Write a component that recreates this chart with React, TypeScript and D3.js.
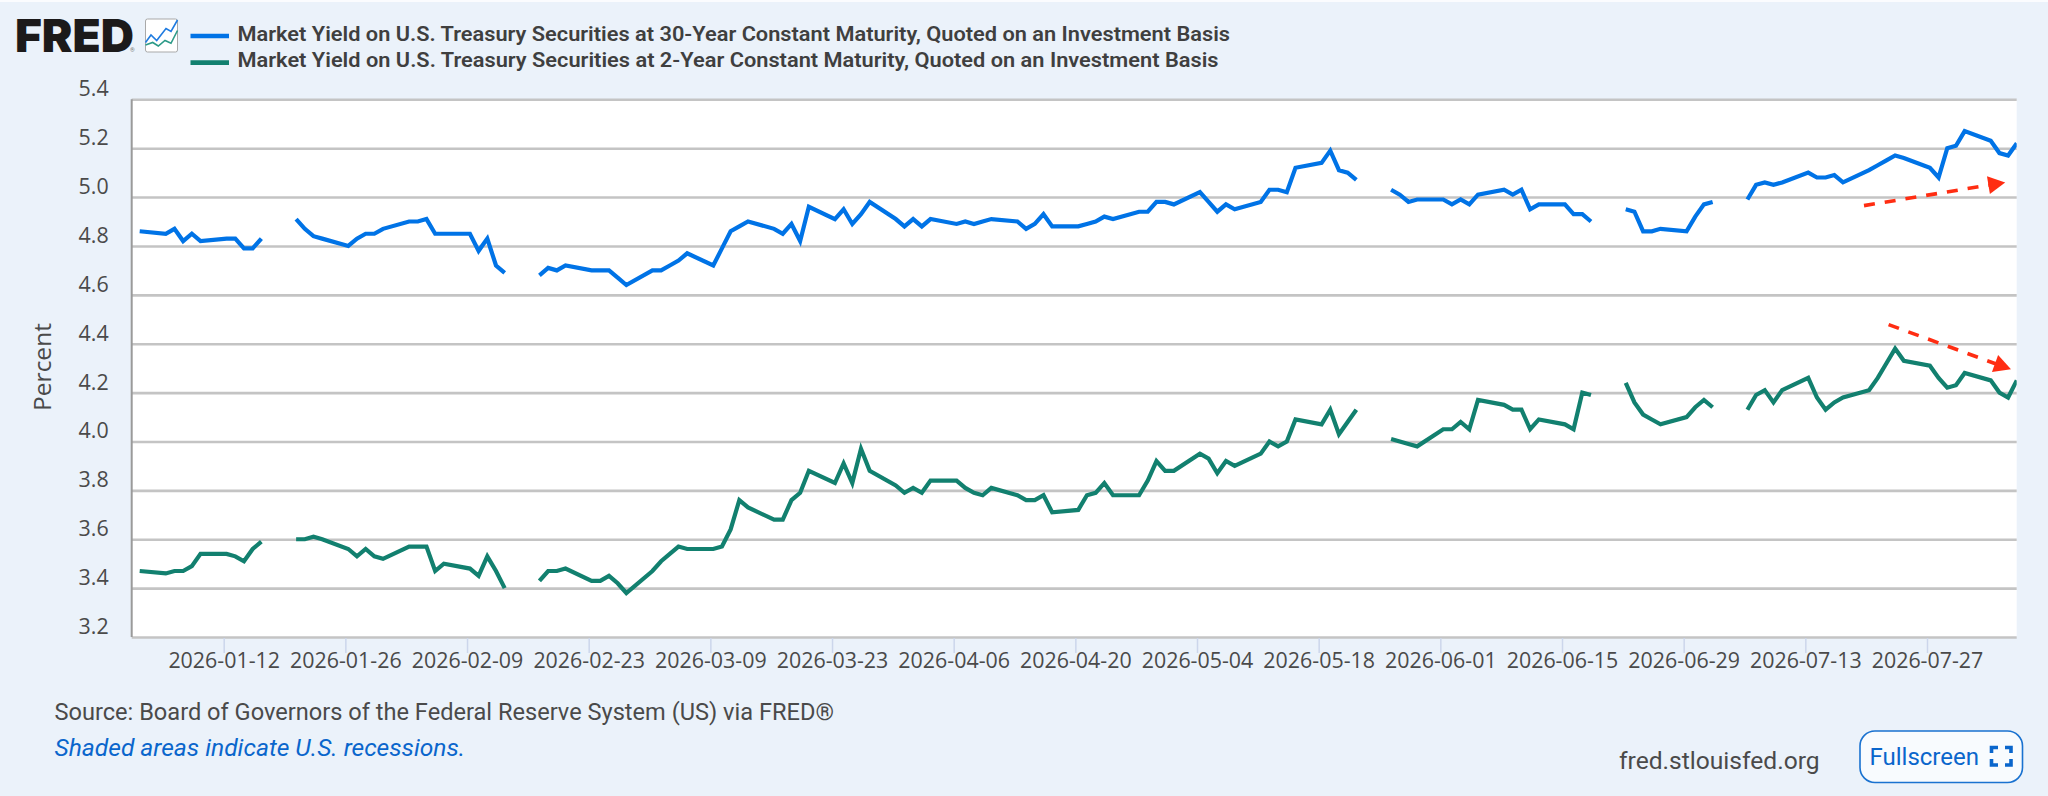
import React, { useRef, useEffect } from 'react';
import * as d3 from 'd3';

// Two FRED treasury series, business days from 2026-01-02. null = bond market holiday, draws a gap.
const thirtyYear: (number | null)[] = [
  4.86,
  4.85, 4.87, 4.82, 4.85, 4.82,
  4.83, 4.83, 4.79, 4.79, 4.83,
  null, 4.91, 4.87, 4.84, 4.83,
  4.80, 4.83, 4.85, 4.85, 4.87,
  4.90, 4.90, 4.91, 4.85, 4.85,
  4.85, 4.78, 4.83, 4.72, 4.69,
  null, 4.68, 4.71, 4.70, 4.72,
  4.70, 4.70, 4.70, 4.67, 4.64,
  4.70, 4.70, 4.72, 4.74, 4.77,
  4.72, 4.79, 4.86, 4.88, 4.90,
  4.87, 4.85, 4.89, 4.82, 4.96,
  4.91, 4.95, 4.89, 4.93, 4.98,
  4.91, 4.88, 4.91, 4.88, 4.91,
  4.89, 4.90, 4.89, 4.90, 4.91,
  4.90, 4.87, 4.89, 4.93, 4.88,
  4.88, 4.89, 4.90, 4.92, 4.91,
  4.94, 4.94, 4.98, 4.98, 4.97,
  5.02, 4.98, 4.94, 4.97, 4.95,
  4.98, 5.03, 5.03, 5.02, 5.12,
  5.14, 5.19, 5.11, 5.10, 5.07,
  null, 5.03, 5.01, 4.98, 4.99,
  4.99, 4.97, 4.99, 4.97, 5.01,
  5.03, 5.01, 5.03, 4.95, 4.97,
  4.97, 4.93, 4.93, 4.90, null,
  4.95, 4.94, 4.86, 4.86, 4.87,
  4.86, 4.92, 4.97, 4.98, null,
  4.99, 5.05, 5.06, 5.05, 5.06,
  5.10, 5.08, 5.08, 5.09, 5.06,
  5.11, 5.13, 5.15, 5.17, 5.16,
  5.12, 5.08, 5.20, 5.21, 5.27,
  5.23, 5.18, 5.17, 5.22,
];

const twoYear: (number | null)[] = [
  3.47,
  3.46, 3.47, 3.47, 3.49, 3.54,
  3.54, 3.53, 3.51, 3.56, 3.59,
  null, 3.60, 3.60, 3.61, 3.60,
  3.56, 3.53, 3.56, 3.53, 3.52,
  3.57, 3.57, 3.57, 3.47, 3.50,
  3.48, 3.45, 3.53, 3.47, 3.40,
  null, 3.43, 3.47, 3.47, 3.48,
  3.43, 3.43, 3.45, 3.42, 3.38,
  3.47, 3.51, 3.54, 3.57, 3.56,
  3.56, 3.57, 3.64, 3.76, 3.73,
  3.68, 3.68, 3.76, 3.79, 3.88,
  3.83, 3.91, 3.83, 3.97, 3.88,
  3.82, 3.79, 3.81, 3.79, 3.84,
  3.84, 3.81, 3.79, 3.78, 3.81,
  3.78, 3.76, 3.76, 3.78, 3.71,
  3.72, 3.78, 3.79, 3.83, 3.78,
  3.78, 3.84, 3.92, 3.88, 3.88,
  3.95, 3.93, 3.87, 3.92, 3.90,
  3.95, 4.00, 3.98, 4.00, 4.09,
  4.07, 4.13, 4.03, 4.08, 4.13,
  null, 4.01, 4.00, 3.99, 3.98,
  4.05, 4.05, 4.08, 4.05, 4.17,
  4.15, 4.13, 4.13, 4.05, 4.09,
  4.07, 4.05, 4.20, 4.19, null,
  4.24, 4.16, 4.11, 4.09, 4.07,
  4.10, 4.14, 4.17, 4.14, null,
  4.13, 4.19, 4.21, 4.16, 4.21,
  4.26, 4.18, 4.13, 4.16, 4.18,
  4.21, 4.26, 4.32, 4.38, 4.33,
  4.31, 4.26, 4.22, 4.23, 4.28,
  4.25, 4.20, 4.18, 4.25,
];

const yTicks = [3.2, 3.4, 3.6, 3.8, 4.0, 4.2, 4.4, 4.6, 4.8, 5.0, 5.2, 5.4];
const xTickLabels = [
  '2026-01-12', '2026-01-26', '2026-02-09', '2026-02-23', '2026-03-09',
  '2026-03-23', '2026-04-06', '2026-04-20', '2026-05-04', '2026-05-18',
  '2026-06-01', '2026-06-15', '2026-06-29', '2026-07-13', '2026-07-27',
];

const seriesNames = [
  'Market Yield on U.S. Treasury Securities at 30-Year Constant Maturity, Quoted on an Investment Basis',
  'Market Yield on U.S. Treasury Securities at 2-Year Constant Maturity, Quoted on an Investment Basis',
];
const seriesColors = ['#0073e6', '#12806f'];
const legendWidths = [992.5, 981];

// Hand-drawn arrows on top of the chart: [date, percent] start and tip.
const upArrow: [string, number][] = [['2026-07-19T18:00Z', 4.965], ['2026-08-05T00:00Z', 5.06]];
const downArrow: [string, number][] = [['2026-07-22T14:00Z', 4.478], ['2026-08-05T16:00Z', 4.295]];

const FONT = 'Roboto, sans-serif';
const AXIS_FONT = '"Open Sans", sans-serif';
const INK = '#4a4a4a';
const LINK = '#0a66cc';

const utc = (s: string) => new Date(s);

export default function App() {
  const svgRef = useRef<SVGSVGElement>(null);

  useEffect(() => {
    const svg = d3.select(svgRef.current);
    svg.selectAll('*').remove();

    const width = 2048;
    const height = 796;
    const plot = { left: 131.7, right: 2016.7, top: 99.3, bottom: 637 };

    svg.append('rect').attr('width', width).attr('height', height).attr('fill', '#ebf2fa');
    svg.append('rect').attr('width', width).attr('height', 2).attr('fill', '#fbfcfe');
    svg.append('rect')
      .attr('x', plot.left).attr('y', plot.top)
      .attr('width', plot.right - plot.left).attr('height', plot.bottom - plot.top)
      .attr('fill', 'white');

    const x = d3.scaleUtc()
      .domain([utc('2026-01-12T00:00Z'), utc('2026-07-27T00:00Z')])
      .range([223.7, 1927]);
    const y = d3.scaleLinear().domain([3.2, 5.4]).range([plot.bottom, plot.top]);

    // Y axis: full width grid, labels sit above their line like FRED's
    const yAxis = svg.append('g')
      .attr('transform', `translate(${plot.left},0)`)
      .call(d3.axisLeft(y).tickValues(yTicks).tickFormat(d3.format('.1f')).tickSize(-(plot.right - plot.left)).tickPadding(23));
    yAxis.select('.domain').remove();
    yAxis.selectAll('line').attr('stroke', '#c4c4c4').attr('stroke-width', 2.6);
    yAxis.selectAll('text')
      .attr('dy', -3.5)
      .attr('fill', INK).attr('font-family', AXIS_FONT).attr('font-size', 21.4);

    svg.append('line')
      .attr('x1', plot.left).attr('x2', plot.left).attr('y1', plot.top).attr('y2', plot.bottom)
      .attr('stroke', '#9a9a9a').attr('stroke-width', 2);

    // X axis
    const xAxis = svg.append('g')
      .attr('transform', `translate(0,${plot.bottom + 1})`)
      .call(d3.axisBottom(x)
        .tickValues(xTickLabels.map((d) => utc(`${d}T00:00Z`)))
        .tickFormat((d) => d3.utcFormat('%Y-%m-%d')(d as Date))
        .tickSize(15).tickPadding(0));
    xAxis.select('.domain').remove();
    xAxis.selectAll('line').attr('stroke', '#ccd6eb').attr('stroke-width', 1.5);
    xAxis.selectAll('text')
      .attr('fill', INK).attr('font-family', AXIS_FONT).attr('font-size', 21.4);

    // Business days, holidays stay in the list as null
    const days = d3.utcDay
      .range(utc('2026-01-02T00:00Z'), utc('2026-08-07T00:00Z'))
      .filter((d) => d.getUTCDay() !== 0 && d.getUTCDay() !== 6);
    // Observations land about 8.5h right of the midnight ticks (time zone of the export)
    const obsTime = (d: Date) => d3.utcHour.offset(d, 8.5);

    svg.append('clipPath').attr('id', 'plot-clip').append('rect')
      .attr('x', plot.left).attr('y', plot.top)
      .attr('width', plot.right - plot.left).attr('height', plot.bottom - plot.top);

    const line = d3.line<number | null>()
      .defined((d) => d !== null)
      .x((_, i) => x(obsTime(days[i])))
      .y((d) => y(d as number));

    [thirtyYear, twoYear].forEach((values, i) => {
      svg.append('path')
        .datum(values)
        .attr('d', line)
        .attr('clip-path', 'url(#plot-clip)')
        .attr('fill', 'none')
        .attr('stroke', seriesColors[i])
        .attr('stroke-width', 4.2);
    });

    // Red annotation arrows
    for (const arrow of [upArrow, downArrow]) {
      const [x0, y0] = [x(utc(arrow[0][0])), y(arrow[0][1])];
      const [x1, y1] = [x(utc(arrow[1][0])), y(arrow[1][1])];
      const angle = Math.atan2(y1 - y0, x1 - x0);
      const len = Math.hypot(x1 - x0, y1 - y0);
      const g = svg.append('g')
        .attr('transform', `translate(${x0},${y0}) rotate(${(angle * 180) / Math.PI})`);
      g.append('line')
        .attr('x1', 0).attr('x2', len - 14).attr('y1', 0).attr('y2', 0)
        .attr('stroke', '#ff2d12').attr('stroke-width', 3.6)
        .attr('stroke-dasharray', '11 10');
      g.append('path')
        .attr('d', `M${len},0L${len - 17},-9L${len - 17},9Z`)
        .attr('fill', '#ff2d12');
    }

    // FRED logo
    svg.append('text')
      .attr('x', 15).attr('y', 51.5)
      .attr('font-family', 'Inter, sans-serif').attr('font-weight', 900).attr('font-size', 46)
      .attr('textLength', 119).attr('lengthAdjust', 'spacingAndGlyphs')
      .attr('fill', '#1c1a1a')
      .text('FRED');
    svg.append('text')
      .attr('x', 130).attr('y', 51.5)
      .attr('font-family', FONT).attr('font-size', 6).attr('fill', '#777')
      .text('®');
    const icon = svg.append('g').attr('transform', 'translate(145,18.5)');
    icon.append('rect')
      .attr('x', 0.5).attr('y', 0.5).attr('width', 32).attr('height', 33).attr('rx', 2)
      .attr('fill', 'white').attr('stroke', '#a9a9a9');
    icon.append('path')
      .attr('d', 'M0.5,24L6,16.5L11.7,22L21,10L26,13L32.5,1.5')
      .attr('fill', 'none').attr('stroke', '#1f7be0').attr('stroke-width', 1.6);
    icon.append('path')
      .attr('d', 'M0.5,26.5L7.7,24L13.3,27.5L20,22L26,24.8L32.5,12')
      .attr('fill', 'none').attr('stroke', '#2c9a88').attr('stroke-width', 1.6);

    // Legend
    seriesNames.forEach((name, i) => {
      const ly = 36 + i * 26.6;
      svg.append('line')
        .attr('x1', 190.5).attr('x2', 229).attr('y1', ly).attr('y2', ly)
        .attr('stroke', seriesColors[i]).attr('stroke-width', 4.6);
      svg.append('text')
        .attr('x', 237.5).attr('y', ly + 4.7)
        .attr('font-family', FONT).attr('font-weight', 600).attr('font-size', 21)
        .attr('textLength', legendWidths[i]).attr('lengthAdjust', 'spacingAndGlyphs')
        .attr('fill', '#3f3f3f')
        .text(name);
    });

    // Percent
    svg.append('text')
      .attr('transform', 'translate(51,367) rotate(-90)')
      .attr('text-anchor', 'middle')
      .attr('font-family', AXIS_FONT).attr('font-size', 24.5).attr('fill', INK)
      .text('Percent');

    // Footer
    svg.append('text')
      .attr('x', 54.5).attr('y', 720)
      .attr('font-family', FONT).attr('font-size', 23.6).attr('fill', INK)
      .text('Source: Board of Governors of the Federal Reserve System (US) via FRED®');
    svg.append('text')
      .attr('x', 54.5).attr('y', 756)
      .attr('font-family', FONT).attr('font-style', 'italic').attr('font-size', 24.6).attr('fill', LINK)
      .text('Shaded areas indicate U.S. recessions.');
    svg.append('text')
      .attr('x', 1619).attr('y', 769)
      .attr('font-family', FONT).attr('font-size', 24.6).attr('fill', INK)
      .text('fred.stlouisfed.org');

    // Fullscreen button
    svg.append('rect')
      .attr('x', 1860).attr('y', 731).attr('width', 162.5).attr('height', 51.5).attr('rx', 15)
      .attr('fill', '#f8fbfe').attr('stroke', '#1a72d0').attr('stroke-width', 1.6);
    svg.append('text')
      .attr('x', 1869.5).attr('y', 765)
      .attr('font-family', FONT).attr('font-size', 24).attr('fill', LINK)
      .text('Fullscreen');
    svg.append('path')
      .attr('d', 'M1991.5,753V747.5H1998M2005,747.5H2011V753M2011,759V765H2005M1998,765H1991.5V759')
      .attr('fill', 'none').attr('stroke', LINK).attr('stroke-width', 3.6);
  }, []);

  return (
    <svg
      ref={svgRef}
      width={2048}
      height={796}
      viewBox="0 0 2048 796"
      style={{ position: 'absolute', left: 0, top: 0, display: 'block' }}
    />
  );
}
